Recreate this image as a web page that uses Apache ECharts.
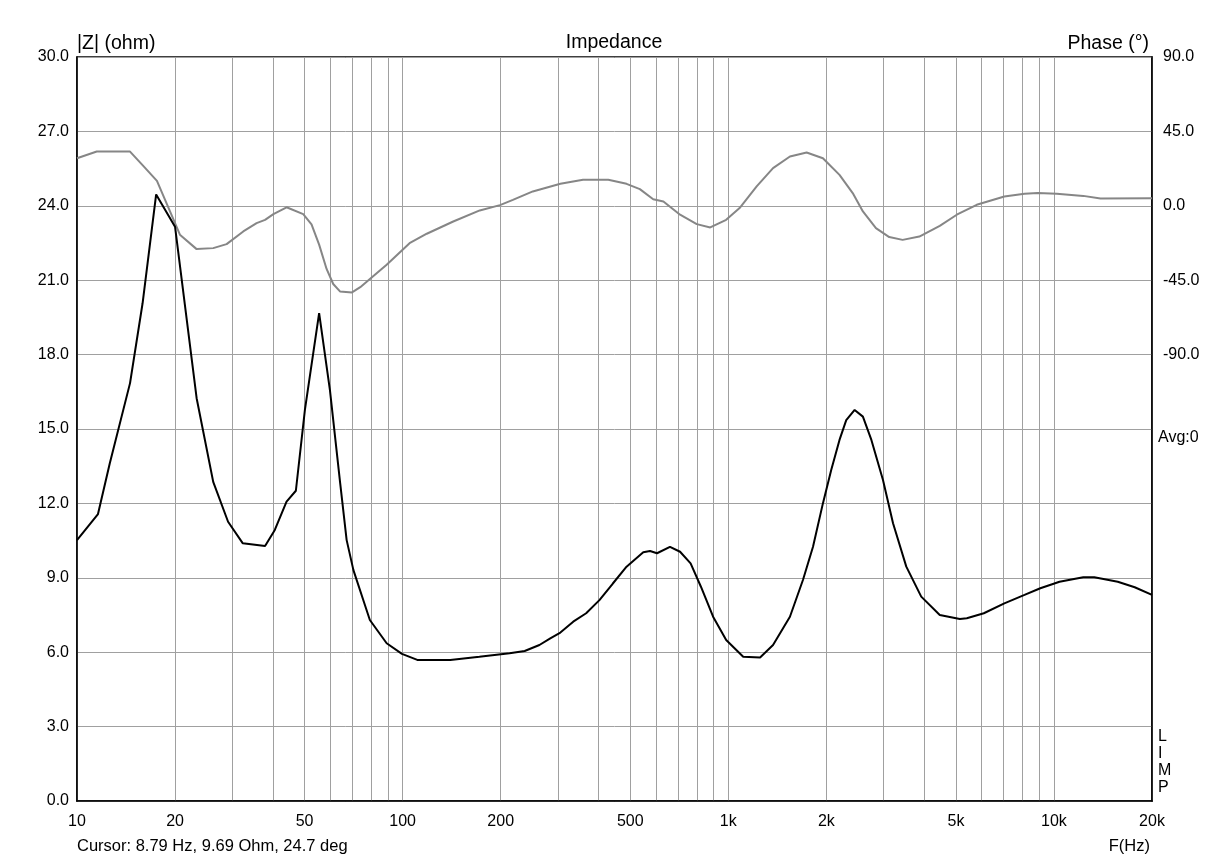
<!DOCTYPE html>
<html>
<head>
<meta charset="utf-8">
<script src="https://cdn.jsdelivr.net/npm/echarts@6/dist/echarts.min.js"></script>
<style>
html,body{margin:0;padding:0;background:#fff;}
#c{width:1228px;height:859px;}
</style>
</head>
<body>
<div id="c"></div>
<script>
// Impedance magnitude |Z| (ohm) vs frequency (Hz)
const zFreq = [10, 11.6, 12.6, 14.55, 15.9, 17.5, 20.0, 23.3, 26.2, 29.1, 32.3, 37.8, 40.5, 44.0, 47.0, 50.1, 55.4, 59.8, 64.3, 67.3, 70.6, 79.3, 89.3, 99.5, 110.9, 140, 172, 213, 237, 263, 284, 305, 334, 366, 402, 442, 487, 548, 575, 604, 662, 711, 766, 824, 898, 985, 1111, 1252, 1372, 1546, 1695, 1820, 1952, 2070, 2195, 2302, 2443, 2590, 2750, 2985, 3205, 3520, 3912, 4460, 5140, 5400, 6090, 7040, 8120, 9080, 10400, 12300, 13300, 15700, 17700, 20000];
const zOhm  = [10.52, 11.57, 13.6, 16.85, 20.07, 24.46, 23.16, 16.24, 12.87, 11.26, 10.39, 10.28, 10.93, 12.07, 12.51, 15.77, 19.67, 16.57, 12.81, 10.52, 9.31, 7.30, 6.36, 5.93, 5.69, 5.69, 5.82, 5.96, 6.05, 6.29, 6.56, 6.79, 7.23, 7.57, 8.10, 8.77, 9.45, 10.03, 10.08, 9.99, 10.25, 10.05, 9.58, 8.64, 7.43, 6.49, 5.82, 5.79, 6.29, 7.43, 8.91, 10.25, 12.0, 13.35, 14.56, 15.36, 15.77, 15.5, 14.56, 12.94, 11.2, 9.45, 8.24, 7.5, 7.34, 7.37, 7.57, 7.97, 8.31, 8.58, 8.84, 9.02, 9.02, 8.84, 8.62, 8.31];

// Phase (deg) vs frequency (Hz)
const pFreq = [10, 11.5, 14.55, 16.0, 17.6, 20.0, 20.7, 23.3, 26.2, 28.8, 32.4, 35.6, 37.8, 40.1, 44.0, 49.5, 52.5, 55.4, 58.4, 61.2, 64.2, 69.9, 74.1, 77.7, 89.3, 105, 118.6, 143, 172.5, 199, 218, 251, 305, 358, 428, 487, 535, 588, 632, 711, 800, 880, 985, 1083, 1222, 1372, 1546, 1740, 1952, 2195, 2410, 2590, 2840, 3120, 3430, 3860, 4460, 5030, 5790, 7040, 8120, 8910, 10200, 12300, 13900, 20000];
const pDeg  = [28.8, 32.8, 32.8, 24.0, 15.1, -10.5, -17.5, -26.2, -25.6, -23.2, -15.5, -10.5, -8.5, -5.0, -0.9, -5.0, -11.2, -23.5, -38.2, -47.3, -51.8, -52.4, -49.2, -45.8, -35.7, -22.6, -16.9, -9.5, -2.8, 0.4, 3.6, 8.7, 13.3, 15.7, 15.7, 13.3, 10.1, 4.0, 2.6, -5.4, -11.1, -13.1, -8.5, -1.4, 11.7, 22.8, 29.8, 32.2, 28.8, 18.7, 7.7, -3.4, -13.5, -18.9, -20.6, -18.6, -12.1, -5.4, 0.6, 5.6, 7.3, 7.7, 7.3, 6.0, 4.4, 4.6];

// Axis ticks
const xGridFreqs = [10,20,30,40,50,60,70,80,90,100,200,300,400,500,600,700,800,900,1000,2000,3000,4000,5000,6000,7000,8000,9000,10000,20000];
const xLabelFreqs = [10,20,50,100,200,500,1000,2000,5000,10000,20000];

const FONT = "'Liberation Sans', Arial, sans-serif";
const TITLE_SIZE = 19.5;
const lg = v => Math.log10(v);

const chart = echarts.init(document.getElementById('c'), null, {renderer: 'canvas'});
chart.setOption({
  animation: false,
  backgroundColor: '#fff',
  textStyle: {fontFamily: FONT},
  title: {
    text: 'Impedance', left: 'center', top: 33, padding: 0,
    textStyle: {fontFamily: FONT, fontSize: TITLE_SIZE, fontWeight: 'normal', color: '#000'}
  },
  grid: {left: 77, right: 76, top: 57, bottom: 58, show: true, borderColor: '#000', borderWidth: 1.5, backgroundColor: 'transparent'},
  xAxis: {
    type: 'value', min: 1, max: lg(20000),
    axisLine: {show: true, lineStyle: {color: '#000', width: 1.5}},
    axisTick: {show: false, customValues: xGridFreqs.map(lg)},
    splitLine: {show: true, lineStyle: {color: '#a0a0a0', width: 1}},
    axisLabel: {
      customValues: xLabelFreqs.map(lg), showMinLabel: true, showMaxLabel: true,
      margin: 13, fontSize: 16, color: '#000', fontFamily: FONT,
      formatter: v => { const f = Math.round(Math.pow(10, v)); return f >= 1000 ? (f/1000) + 'k' : String(f); }
    }
  },
  yAxis: [{
    type: 'value', min: 0, max: 30, interval: 3, position: 'left',
    name: '|Z| (ohm)', nameLocation: 'end', nameGap: 3,
    nameTextStyle: {align: 'left', fontSize: TITLE_SIZE, color: '#000', fontFamily: FONT},
    axisLine: {show: true, lineStyle: {color: '#000', width: 1.5}},
    axisTick: {show: false},
    splitLine: {show: true, lineStyle: {color: '#a0a0a0', width: 1}},
    axisLabel: {margin: 8, fontSize: 16, color: '#000', fontFamily: FONT, formatter: v => v.toFixed(1)}
  }, {
    type: 'value', min: -360, max: 90, interval: 45, position: 'right',
    name: 'Phase (°)', nameLocation: 'end', nameGap: 3,
    nameTextStyle: {align: 'right', fontSize: TITLE_SIZE, color: '#000', fontFamily: FONT, padding: [0, 3, 0, 0]},
    axisLine: {show: true, lineStyle: {color: '#000', width: 1.5}},
    axisTick: {show: false},
    splitLine: {show: false},
    axisLabel: {
      margin: 11, fontSize: 16, color: '#000', fontFamily: FONT,
      formatter: v => v >= -90 ? v.toFixed(1) : (v === -135 ? '{a|Avg:0}' : ''),
      rich: {a: {fontSize: 16, color: '#000', fontFamily: FONT, padding: [18, 0, 0, -5]}}
    }
  }],
  graphic: [
    {type: 'text', left: 77, top: 838, style: {text: 'Cursor: 8.79 Hz, 9.69 Ohm, 24.7 deg', fontSize: 16.5, fill: '#000', fontFamily: FONT}},
    {type: 'text', right: 78, top: 838, style: {text: 'F(Hz)', fontSize: 16.5, fill: '#000', fontFamily: FONT}},
    {type: 'text', left: 1158, top: 728, style: {text: 'L\nI\nM\nP', fontSize: 16, lineHeight: 17, fill: '#000', fontFamily: FONT}}
  ],
  series: [{
    name: 'Phase', type: 'line', yAxisIndex: 1, showSymbol: false, smooth: false,
    lineStyle: {color: '#868686', width: 2}, itemStyle: {color: '#868686'},
    data: pFreq.map((f, i) => [lg(f), pDeg[i]]), z: 2
  }, {
    name: '|Z|', type: 'line', yAxisIndex: 0, showSymbol: false, smooth: false,
    lineStyle: {color: '#000', width: 2}, itemStyle: {color: '#000'},
    data: zFreq.map((f, i) => [lg(f), zOhm[i]]), z: 3
  }]
});
</script>
</body>
</html>
